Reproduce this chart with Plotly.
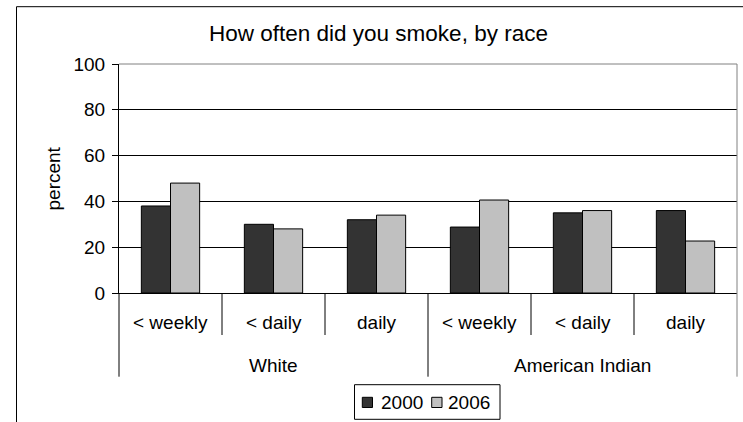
import plotly.graph_objects as go

# ---- data ----
groups = ["White", "American Indian"]
sub_labels = ["< weekly", "< daily", "daily", "< weekly", "< daily", "daily"]
series_names = ["2000", "2006"]
values_2000 = [38, 30, 32, 28.8, 35, 36]
values_2006 = [48, 28, 34, 40.6, 36, 22.7]
y_ticks = [0, 20, 40, 60, 80, 100]

# ---- layout geometry (pixels) ----
W, H = 743, 422
L, R, T, B = 119, 6, 64, 129
PX0, PX1 = L, W - R
PY0, PY1 = T, H - B  # top, bottom of plot area


def px(xp):
    return (xp - PX0) / (PX1 - PX0)


def py(yp):
    return (PY1 - yp) / (PY1 - PY0)


FONT = "Liberation Sans, Arial, sans-serif"
FS = 19
DARK = "#333333"
LIGHT = "#C0C0C0"
GRAY = "#808080"

xs = list(range(len(sub_labels)))

fig = go.Figure()
fig.add_trace(go.Bar(x=xs, y=values_2000, name=series_names[0],
                     marker=dict(color=DARK, line=dict(color="black", width=1)),
                     showlegend=False))
fig.add_trace(go.Bar(x=xs, y=values_2006, name=series_names[1],
                     marker=dict(color=LIGHT, line=dict(color="black", width=1)),
                     showlegend=False))

shapes = []
annotations = []

# outer chart frame (cropped at right and bottom)
shapes.append(dict(type="rect", xref="paper", yref="paper",
                   x0=px(16.5), x1=px(760), y0=py(440), y1=py(6.7),
                   line=dict(color="black", width=1), fillcolor="rgba(0,0,0,0)",
                   layer="below"))

# plot border top & right (gray)
shapes.append(dict(type="line", xref="paper", yref="paper",
                   x0=0, x1=1, y0=1, y1=1, line=dict(color=GRAY, width=1)))
shapes.append(dict(type="line", xref="paper", yref="paper",
                   x0=1, x1=1, y0=1, y1=py(376.7), line=dict(color=GRAY, width=1)))

# left axis extension
shapes.append(dict(type="line", xref="paper", yref="paper",
                   x0=0, x1=0, y0=0, y1=py(376.7), line=dict(color="black", width=1)))

# category separators
n = len(sub_labels)
per_group = n // len(groups)
for i in range(1, n):
    b = i - 0.5
    long = (i % per_group == 0)
    shapes.append(dict(type="line", xref="x", yref="paper",
                       x0=b, x1=b, y0=0, y1=py(376.7 if long else 335),
                       line=dict(color="black", width=1)))

# sub-category labels
for i, lab in enumerate(sub_labels):
    annotations.append(dict(x=i, y=py(322), xref="x", yref="paper", text=lab,
                            showarrow=False, xanchor="center", yanchor="middle",
                            font=dict(family=FONT, size=FS, color="black")))
# group labels
for g, lab in enumerate(groups):
    cx = g * per_group + (per_group - 1) / 2
    annotations.append(dict(x=cx, y=py(365), xref="x", yref="paper", text=lab,
                            showarrow=False, xanchor="center", yanchor="middle",
                            font=dict(family=FONT, size=FS, color="black")))

# title
annotations.append(dict(x=px(378), y=py(34), xref="paper", yref="paper",
                        text="How often did you smoke, by race", showarrow=False,
                        xanchor="center", yanchor="middle",
                        font=dict(family=FONT, size=22.5, color="black")))
# y-axis title
annotations.append(dict(x=px(52.5), y=py(179), xref="paper", yref="paper",
                        text="percent", showarrow=False, textangle=-90,
                        xanchor="center", yanchor="middle",
                        font=dict(family=FONT, size=FS, color="black")))

# custom legend
shapes.append(dict(type="rect", xref="paper", yref="paper",
                   x0=px(354.5), x1=px(500), y0=py(419.3), y1=py(384.7),
                   line=dict(color="black", width=1), fillcolor="white"))
legend_items = [(362.3, 372.5, DARK, series_names[0], 378.5),
                (431.7, 442, LIGHT, series_names[1], 446.5)]
for x0, x1, col, lab, tx in legend_items:
    shapes.append(dict(type="rect", xref="paper", yref="paper",
                       x0=px(x0), x1=px(x1), y0=py(407.5), y1=py(397.3),
                       line=dict(color="black", width=1), fillcolor=col))
    annotations.append(dict(x=px(tx), y=py(402), xref="paper", yref="paper",
                            text=lab, showarrow=False, xanchor="left", yanchor="middle",
                            font=dict(family=FONT, size=FS, color="black")))

fig.update_layout(
    width=W, height=H,
    margin=dict(l=L, r=R, t=T, b=B, pad=0),
    paper_bgcolor="white", plot_bgcolor="white",
    barmode="group", bargap=0.434, bargroupgap=0,
    shapes=shapes, annotations=annotations,
    showlegend=False,
    font=dict(family=FONT, size=FS, color="black"),
    xaxis=dict(range=[-0.5, n - 0.5], showgrid=False, zeroline=False,
               showline=True, linecolor="black", linewidth=1,
               showticklabels=False, ticks="", fixedrange=True),
    yaxis=dict(range=[0, 100], tickvals=y_ticks, showgrid=True, gridcolor="black",
               gridwidth=1, zeroline=False, showline=True, linecolor="black",
               linewidth=1, ticks="outside", ticklen=6, tickcolor="black",
               tickfont=dict(family=FONT, size=FS, color="black"),
               ticklabelstandoff=3, fixedrange=True),
)

fig.write_html("out.html", config={"displayModeBar": False},
               post_script="document.body.style.margin='0';document.body.style.padding='0';")
